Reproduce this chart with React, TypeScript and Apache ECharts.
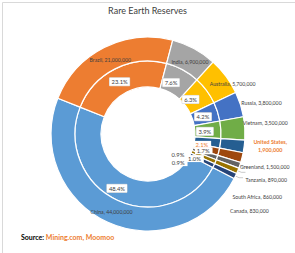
import React, { useEffect, useRef } from "react";
import * as echarts from "echarts";

const chartTitle = "Rare Earth Reserves";
const countries = ["China", "Brazil", "India", "Australia", "Russia", "Vietnam", "United States", "Greenland", "Tanzania", "South Africa", "Canada"];
const reserves = [44000000, 21000000, 6900000, 5700000, 3800000, 3500000, 1900000, 1500000, 890000, 860000, 830000];
const sliceColors = ["#5B9BD5", "#ED7D31", "#A5A5A5", "#FFC000", "#4472C4", "#70AD47", "#255E91", "#9E480E", "#636363", "#997300", "#264478"];
const sourceLabel = "Source: ";
const sourceNames = "Mining.com, Moomoo";

const FONT = "Lato";
const TEXT = "#404040";
const ORANGE = "#ED7D31";
const HIGHLIGHT = "United States";
const outerInside = ["China", "Brazil", "India", "Australia"];
const withLeader = ["Tanzania", "South Africa", "Canada"];
const innerTiny = ["United States", "Greenland", "Tanzania", "South Africa", "Canada"];

const innerNudge: Record<string, [number, number]> = {
  China: [-5, -3],
  Brazil: [0, 4],
  India: [-7, 4],
  Australia: [-8, 3],
  Russia: [-5, 2],
  Vietnam: [-6, 1],
};
const tinyNudge: Record<string, [number, number]> = {
  "United States": [-27, 1],
  Greenland: [-24, -1],
  Tanzania: [-31, 1],
  "South Africa": [-46, -7],
  Canada: [-44, -3],
};
const outerNudge: Record<string, [number, number]> = {
  China: [0, -2],
  Brazil: [2, 5],
  India: [0, 5],
  Australia: [14, 2],
  Russia: [0, -1],
  Vietnam: [-3, -5],
  "United States": [3, 0],
  Greenland: [-3, 9],
  Tanzania: [-3, 13],
  "South Africa": [-14, 25],
  Canada: [-14, 33],
};

export default function App() {
  const ref = useRef<HTMLDivElement>(null);
  useEffect(() => {
    document.body.style.margin = "0";
    if (!ref.current) return;
    const chart = echarts.init(ref.current, undefined, { renderer: "svg" });
    const total = reserves.reduce((a, b) => a + b, 0);
    const center = [148, 134];
    const pct = (p: any) => ((p.value / total) * 100).toFixed(1) + "%";
    const nudge = (table: Record<string, [number, number]>) => (p: any) => {
      const n = table[countries[p.dataIndex]];
      return n ? { dx: n[0], dy: n[1] } : {};
    };

    const innerData = countries.map((name, i) => ({
      name,
      value: reserves[i],
      itemStyle: { color: sliceColors[i] },
      label: { show: !innerTiny.includes(name) },
    }));

    const tinyData = countries.map((name, i) => ({
      name,
      value: reserves[i],
      label: {
        show: innerTiny.includes(name),
        color: name === HIGHLIGHT ? ORANGE : TEXT,
      },
    }));

    const outerData = countries.map((name, i) => {
      const inside = outerInside.includes(name);
      const leader = withLeader.includes(name);
      const hl = name === HIGHLIGHT;
      return {
        name,
        value: reserves[i],
        itemStyle: { color: sliceColors[i] },
        label: {
          position: inside ? "inside" : "outside",
          color: hl ? ORANGE : TEXT,
          fontWeight: hl ? "bold" : "normal",
        },
        labelLine: { show: leader, length: leader ? 4 : 0, length2: leader ? 4 : 0 },
      };
    });

    chart.setOption({
      animation: false,
      backgroundColor: "#ffffff",
      title: {
        text: chartTitle,
        left: "center",
        top: 1,
        textStyle: { fontFamily: FONT, fontSize: 9, fontWeight: "normal", color: TEXT },
      },
      graphic: [
        {
          type: "rect",
          left: 0,
          top: 0,
          shape: { width: 294, height: 252 },
          style: { fill: "none", stroke: "#D9D9D9", lineWidth: 1 },
          silent: true,
        },
        {
          type: "text",
          left: 21,
          top: 233,
          style: {
            text: "{a|" + sourceLabel + "}{b|" + sourceNames + "}",
            rich: {
              a: { fontFamily: FONT, fontSize: 7, fontWeight: "bold", fill: "#000000" },
              b: { fontFamily: FONT, fontSize: 7, fontWeight: "bold", fill: ORANGE },
            },
          },
        },
      ],
      series: [
        {
          type: "pie",
          name: "inner",
          center,
          radius: [47, 73],
          startAngle: -27.3,
          clockwise: true,
          avoidLabelOverlap: false,
          itemStyle: { borderColor: "#ffffff", borderWidth: 1.2 },
          label: {
            show: true,
            position: "inside",
            fontFamily: FONT,
            fontSize: 5.8,
            color: TEXT,
            overflow: "none",
            backgroundColor: "#ffffff",
            borderColor: "#D0D0D0",
            borderWidth: 0.5,
            padding: [1, 2, 1, 2],
            formatter: pct,
          },
          labelLine: { show: false },
          labelLayout: nudge(innerNudge),
          emphasis: { disabled: true },
          data: innerData,
        },
        {
          type: "pie",
          name: "outer",
          center,
          radius: [73, 97],
          startAngle: -27.3,
          clockwise: true,
          avoidLabelOverlap: false,
          itemStyle: { borderColor: "#ffffff", borderWidth: 1.2 },
          label: {
            show: true,
            fontFamily: FONT,
            fontSize: 5.2,
            color: TEXT,
            overflow: "none",
            distanceToLabelLine: 1,
            formatter: (p: any) => {
              const v = Number(p.value).toLocaleString("en-US");
              if (p.name === HIGHLIGHT) return "{c|" + p.name + ",}\n{c|" + v + "}";
              return p.name + ", " + v;
            },
            rich: {
              c: { width: 44, align: "center", fontFamily: FONT, fontSize: 5.4, fontWeight: "bold", color: ORANGE, lineHeight: 8 },
            },
          },
          labelLine: { lineStyle: { color: "#A6A6A6", width: 0.6 } },
          labelLayout: nudge(outerNudge),
          emphasis: { disabled: true },
          data: outerData,
        },
        {
          type: "pie",
          name: "innerTiny",
          z: 5,
          silent: true,
          center,
          radius: [47, 73],
          startAngle: -27.3,
          clockwise: true,
          avoidLabelOverlap: false,
          itemStyle: { color: "rgba(0,0,0,0)", borderWidth: 0 },
          label: {
            position: "outside",
            fontFamily: FONT,
            fontSize: 5.8,
            color: TEXT,
            overflow: "none",
            distanceToLabelLine: 0,
            backgroundColor: "#ffffff",
            padding: [0.5, 3, 0.5, 2],
            formatter: pct,
          },
          labelLine: { show: false, length: 0, length2: 0 },
          labelLayout: nudge(tinyNudge),
          emphasis: { disabled: true },
          data: tinyData,
        },
      ],
    });
    return () => chart.dispose();
  }, []);
  return <div ref={ref} style={{ width: 295, height: 253 }} />;
}
